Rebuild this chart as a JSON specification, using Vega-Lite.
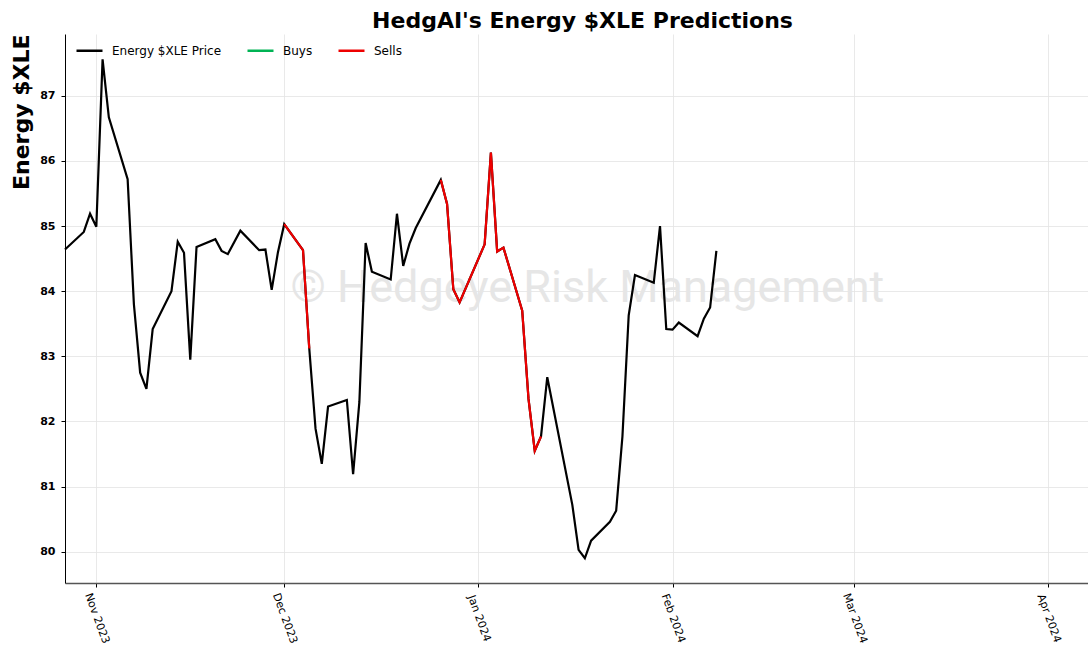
{
  "$schema": "https://vega.github.io/schema/vega-lite/v6.json",
  "width": 1023,
  "height": 549,
  "autosize": {"type": "none"},
  "padding": {"left": 65, "top": 34, "right": 0, "bottom": 68},
  "background": "white",
  "title": {
    "text": "HedgAI's Energy $XLE Predictions",
    "font": "DejaVu Sans",
    "fontSize": 22,
    "fontWeight": "bold",
    "color": "black",
    "anchor": "middle",
    "dx": 6,
    "offset": 1
  },
  "config": {
    "view": {"stroke": null},
    "font": "DejaVu Sans",
    "axis": {
      "gridColor": "#e3e3e3",
      "gridWidth": 0.8,
      "tickColor": "black",
      "tickSize": 4,
      "labelColor": "black",
      "titleColor": "black"
    },
    "legend": {
      "orient": "none",
      "legendX": 10,
      "legendY": 2,
      "direction": "horizontal",
      "symbolType": "stroke",
      "symbolSize": 676,
      "symbolStrokeWidth": 2.5,
      "labelFont": "DejaVu Sans",
      "labelFontSize": 12,
      "labelColor": "black",
      "labelOffset": 8,
      "columnPadding": 20,
      "title": null
    }
  },
  "data": {
    "values": [
      {"date": "2023-10-27", "price": 84.64, "series": "Energy $XLE Price", "seg": 0},
      {"date": "2023-10-30", "price": 84.91, "series": "Energy $XLE Price", "seg": 0},
      {"date": "2023-10-31", "price": 85.19, "series": "Energy $XLE Price", "seg": 0},
      {"date": "2023-11-01", "price": 84.99, "series": "Energy $XLE Price", "seg": 0},
      {"date": "2023-11-02", "price": 87.56, "series": "Energy $XLE Price", "seg": 0},
      {"date": "2023-11-03", "price": 86.67, "series": "Energy $XLE Price", "seg": 0},
      {"date": "2023-11-06", "price": 85.72, "series": "Energy $XLE Price", "seg": 0},
      {"date": "2023-11-07", "price": 83.80, "series": "Energy $XLE Price", "seg": 0},
      {"date": "2023-11-08", "price": 82.75, "series": "Energy $XLE Price", "seg": 0},
      {"date": "2023-11-09", "price": 82.50, "series": "Energy $XLE Price", "seg": 0},
      {"date": "2023-11-10", "price": 83.42, "series": "Energy $XLE Price", "seg": 0},
      {"date": "2023-11-13", "price": 84.00, "series": "Energy $XLE Price", "seg": 0},
      {"date": "2023-11-14", "price": 84.76, "series": "Energy $XLE Price", "seg": 0},
      {"date": "2023-11-15", "price": 84.59, "series": "Energy $XLE Price", "seg": 0},
      {"date": "2023-11-16", "price": 82.95, "series": "Energy $XLE Price", "seg": 0},
      {"date": "2023-11-17", "price": 84.68, "series": "Energy $XLE Price", "seg": 0},
      {"date": "2023-11-20", "price": 84.80, "series": "Energy $XLE Price", "seg": 0},
      {"date": "2023-11-21", "price": 84.62, "series": "Energy $XLE Price", "seg": 0},
      {"date": "2023-11-22", "price": 84.57, "series": "Energy $XLE Price", "seg": 0},
      {"date": "2023-11-24", "price": 84.93, "series": "Energy $XLE Price", "seg": 0},
      {"date": "2023-11-27", "price": 84.63, "series": "Energy $XLE Price", "seg": 0},
      {"date": "2023-11-28", "price": 84.64, "series": "Energy $XLE Price", "seg": 0},
      {"date": "2023-11-29", "price": 84.02, "series": "Energy $XLE Price", "seg": 0},
      {"date": "2023-11-30", "price": 84.60, "series": "Energy $XLE Price", "seg": 0},
      {"date": "2023-12-01", "price": 85.03, "series": "Energy $XLE Price", "seg": 0},
      {"date": "2023-12-04", "price": 84.63, "series": "Energy $XLE Price", "seg": 0},
      {"date": "2023-12-05", "price": 83.12, "series": "Energy $XLE Price", "seg": 0},
      {"date": "2023-12-06", "price": 81.89, "series": "Energy $XLE Price", "seg": 0},
      {"date": "2023-12-07", "price": 81.35, "series": "Energy $XLE Price", "seg": 0},
      {"date": "2023-12-08", "price": 82.23, "series": "Energy $XLE Price", "seg": 0},
      {"date": "2023-12-11", "price": 82.33, "series": "Energy $XLE Price", "seg": 0},
      {"date": "2023-12-12", "price": 81.19, "series": "Energy $XLE Price", "seg": 0},
      {"date": "2023-12-13", "price": 82.30, "series": "Energy $XLE Price", "seg": 0},
      {"date": "2023-12-14", "price": 84.74, "series": "Energy $XLE Price", "seg": 0},
      {"date": "2023-12-15", "price": 84.30, "series": "Energy $XLE Price", "seg": 0},
      {"date": "2023-12-18", "price": 84.18, "series": "Energy $XLE Price", "seg": 0},
      {"date": "2023-12-19", "price": 85.19, "series": "Energy $XLE Price", "seg": 0},
      {"date": "2023-12-20", "price": 84.39, "series": "Energy $XLE Price", "seg": 0},
      {"date": "2023-12-21", "price": 84.73, "series": "Energy $XLE Price", "seg": 0},
      {"date": "2023-12-22", "price": 84.97, "series": "Energy $XLE Price", "seg": 0},
      {"date": "2023-12-26", "price": 85.71, "series": "Energy $XLE Price", "seg": 0},
      {"date": "2023-12-27", "price": 85.34, "series": "Energy $XLE Price", "seg": 0},
      {"date": "2023-12-28", "price": 84.03, "series": "Energy $XLE Price", "seg": 0},
      {"date": "2023-12-29", "price": 83.83, "series": "Energy $XLE Price", "seg": 0},
      {"date": "2024-01-02", "price": 84.72, "series": "Energy $XLE Price", "seg": 0},
      {"date": "2024-01-03", "price": 86.13, "series": "Energy $XLE Price", "seg": 0},
      {"date": "2024-01-04", "price": 84.61, "series": "Energy $XLE Price", "seg": 0},
      {"date": "2024-01-05", "price": 84.67, "series": "Energy $XLE Price", "seg": 0},
      {"date": "2024-01-08", "price": 83.70, "series": "Energy $XLE Price", "seg": 0},
      {"date": "2024-01-09", "price": 82.35, "series": "Energy $XLE Price", "seg": 0},
      {"date": "2024-01-10", "price": 81.55, "series": "Energy $XLE Price", "seg": 0},
      {"date": "2024-01-11", "price": 81.77, "series": "Energy $XLE Price", "seg": 0},
      {"date": "2024-01-12", "price": 82.68, "series": "Energy $XLE Price", "seg": 0},
      {"date": "2024-01-16", "price": 80.72, "series": "Energy $XLE Price", "seg": 0},
      {"date": "2024-01-17", "price": 80.03, "series": "Energy $XLE Price", "seg": 0},
      {"date": "2024-01-18", "price": 79.90, "series": "Energy $XLE Price", "seg": 0},
      {"date": "2024-01-19", "price": 80.17, "series": "Energy $XLE Price", "seg": 0},
      {"date": "2024-01-22", "price": 80.46, "series": "Energy $XLE Price", "seg": 0},
      {"date": "2024-01-23", "price": 80.63, "series": "Energy $XLE Price", "seg": 0},
      {"date": "2024-01-24", "price": 81.77, "series": "Energy $XLE Price", "seg": 0},
      {"date": "2024-01-25", "price": 83.63, "series": "Energy $XLE Price", "seg": 0},
      {"date": "2024-01-26", "price": 84.25, "series": "Energy $XLE Price", "seg": 0},
      {"date": "2024-01-29", "price": 84.13, "series": "Energy $XLE Price", "seg": 0},
      {"date": "2024-01-30", "price": 85.00, "series": "Energy $XLE Price", "seg": 0},
      {"date": "2024-01-31", "price": 83.42, "series": "Energy $XLE Price", "seg": 0},
      {"date": "2024-02-01", "price": 83.41, "series": "Energy $XLE Price", "seg": 0},
      {"date": "2024-02-02", "price": 83.52, "series": "Energy $XLE Price", "seg": 0},
      {"date": "2024-02-05", "price": 83.31, "series": "Energy $XLE Price", "seg": 0},
      {"date": "2024-02-06", "price": 83.58, "series": "Energy $XLE Price", "seg": 0},
      {"date": "2024-02-07", "price": 83.75, "series": "Energy $XLE Price", "seg": 0},
      {"date": "2024-02-08", "price": 84.62, "series": "Energy $XLE Price", "seg": 0},
      {"date": "2023-12-01", "price": 85.03, "series": "Sells", "seg": 1},
      {"date": "2023-12-04", "price": 84.63, "series": "Sells", "seg": 1},
      {"date": "2023-12-05", "price": 83.12, "series": "Sells", "seg": 1},
      {"date": "2023-12-26", "price": 85.71, "series": "Sells", "seg": 2},
      {"date": "2023-12-27", "price": 85.34, "series": "Sells", "seg": 2},
      {"date": "2023-12-28", "price": 84.03, "series": "Sells", "seg": 2},
      {"date": "2023-12-29", "price": 83.83, "series": "Sells", "seg": 2},
      {"date": "2024-01-02", "price": 84.72, "series": "Sells", "seg": 2},
      {"date": "2024-01-03", "price": 86.13, "series": "Sells", "seg": 2},
      {"date": "2024-01-04", "price": 84.61, "series": "Sells", "seg": 2},
      {"date": "2024-01-05", "price": 84.67, "series": "Sells", "seg": 2},
      {"date": "2024-01-08", "price": 83.70, "series": "Sells", "seg": 2},
      {"date": "2024-01-09", "price": 82.35, "series": "Sells", "seg": 2},
      {"date": "2024-01-10", "price": 81.55, "series": "Sells", "seg": 2},
      {"date": "2024-01-11", "price": 81.77, "series": "Sells", "seg": 2}
    ]
  },
  "encoding": {
    "x": {
      "field": "date",
      "type": "temporal",
      "scale": {
        "type": "utc",
        "domain": [
          {"year": 2023, "month": 10, "date": 27, "utc": true},
          {"year": 2024, "month": 4, "date": 7, "hours": 8, "utc": true}
        ]
      },
      "axis": {
        "title": null,
        "values": [
          {"year": 2023, "month": 11, "date": 1, "utc": true},
          {"year": 2023, "month": 12, "date": 1, "utc": true},
          {"year": 2024, "month": 1, "date": 1, "utc": true},
          {"year": 2024, "month": 2, "date": 1, "utc": true},
          {"year": 2024, "month": 3, "date": 1, "utc": true},
          {"year": 2024, "month": 4, "date": 1, "utc": true}
        ],
        "format": "%b %Y",
        "labelAngle": 70,
        "labelAlign": "center",
        "labelBaseline": "middle",
        "labelFont": "DejaVu Sans",
        "labelFontSize": 11,
        "labelPadding": 31,
        "labelFlush": false,
        "labelOverlap": false,
        "domainColor": "#555555",
        "domainWidth": 1.5,
        "grid": true
      }
    },
    "y": {
      "field": "price",
      "type": "quantitative",
      "scale": {"domain": [79.52, 87.95], "nice": false, "zero": false},
      "axis": {
        "title": "Energy $XLE",
        "titleFont": "DejaVu Sans",
        "titleFontSize": 22,
        "titleFontWeight": "bold",
        "titleAnchor": "end",
        "titlePadding": 6,
        "values": [80, 81, 82, 83, 84, 85, 86, 87],
        "labelFont": "DejaVu Sans",
        "labelFontSize": 11,
        "labelFontWeight": "bold",
        "labelPadding": 6,
        "domainColor": "black",
        "domainWidth": 1,
        "grid": true
      }
    }
  },
  "layer": [
    {
      "data": {"values": [{"date": "2024-01-18T10:00:00Z", "price": 84.05, "label": "© Hedgeye Risk Management"}]},
      "mark": {"type": "text", "font": "Roboto", "fontSize": 45, "align": "center", "baseline": "middle"},
      "encoding": {
        "text": {"field": "label"},
        "color": {"value": "#e6e6e6"}
      }
    },
    {
      "transform": [{"filter": "datum.series === 'Energy $XLE Price'"}],
      "mark": {"type": "line", "strokeWidth": 2.2, "interpolate": "linear"},
      "encoding": {
        "detail": {"field": "seg"},
        "color": {
          "field": "series",
          "type": "nominal",
          "scale": {"domain": ["Energy $XLE Price", "Buys", "Sells"], "range": ["black", "#00b354", "#ee0000"]},
          "legend": {}
        }
      }
    },
    {
      "transform": [{"filter": "datum.series === 'Sells'"}],
      "mark": {"type": "line", "strokeWidth": 2.2, "interpolate": "linear"},
      "encoding": {
        "detail": {"field": "seg"},
        "color": {"field": "series", "type": "nominal"}
      }
    }
  ]
}
